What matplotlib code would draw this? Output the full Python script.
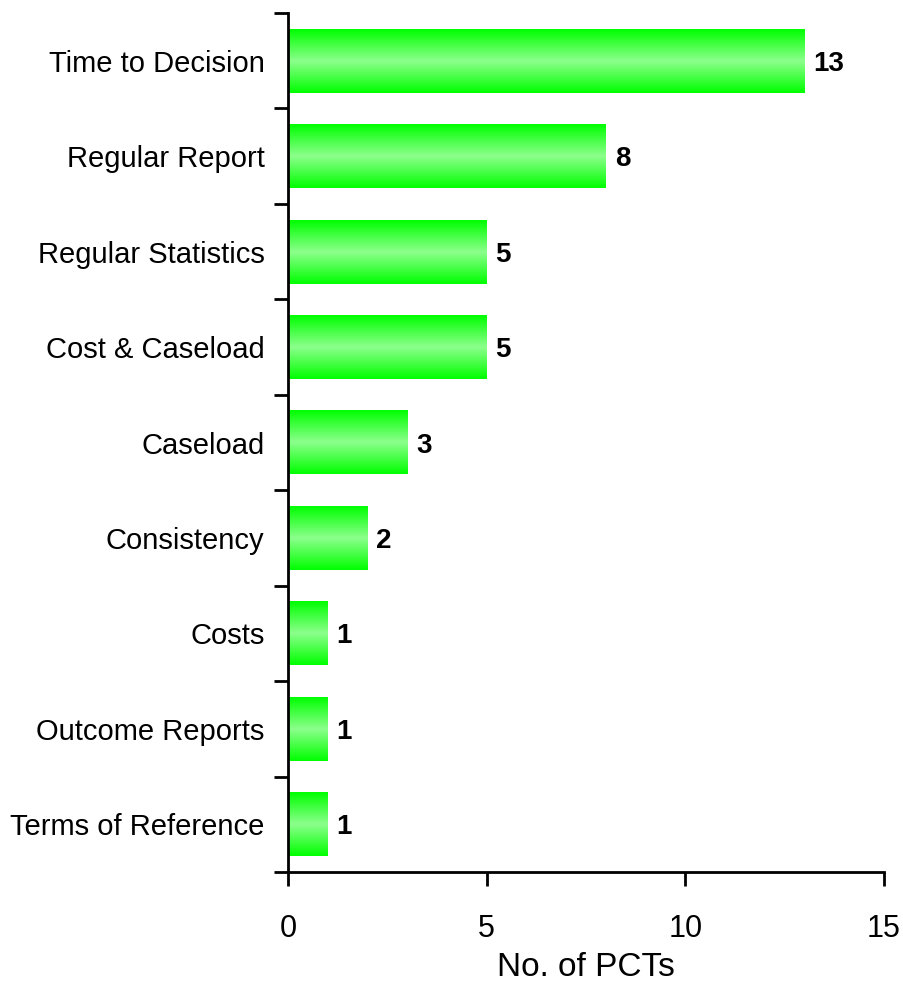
import numpy as np
import matplotlib
matplotlib.use("Agg")
import matplotlib.pyplot as plt
from matplotlib.colors import LinearSegmentedColormap
from matplotlib.ticker import FixedLocator

categories = [
    "Time to Decision",
    "Regular Report",
    "Regular Statistics",
    "Cost & Caseload",
    "Caseload",
    "Consistency",
    "Costs",
    "Outcome Reports",
    "Terms of Reference",
]
counts = [13, 8, 5, 5, 3, 2, 1, 1, 1]
x_ticks = [0, 5, 10, 15]

plt.rcParams["font.family"] = ["Liberation Sans Narrow", "Liberation Sans", "DejaVu Sans"]

fig = plt.figure(figsize=(9.04, 9.84), dpi=100)
ax = fig.add_axes([0.3186, 0.1138, 0.6593, 0.873])

n = len(categories)
ypos = np.arange(n)
bar_h = 0.67

# vertical gradient: saturated green at the edges, pale green in the middle
cmap = LinearSegmentedColormap.from_list("grn", ["#00ff00", "#8cff8c", "#00ff00"])
grad = np.linspace(0, 1, 256).reshape(-1, 1)

bars = ax.barh(ypos, counts, height=bar_h, color="none", edgecolor="none")
for bar, val in zip(bars, counts):
    x0, y0 = bar.get_x(), bar.get_y()
    w, h = bar.get_width(), bar.get_height()
    ax.imshow(grad, cmap=cmap, aspect="auto", extent=(x0, x0 + w, y0 + h, y0),
              interpolation="bicubic", zorder=2)
    ax.text(x0 + w + 0.22, y0 + h / 2, str(val), va="center_baseline", ha="left",
            fontsize=20, fontweight="bold")

ax.set_xlim(0, 15)
ax.set_ylim(n - 0.5, -0.5)

ax.spines["top"].set_visible(False)
ax.spines["right"].set_visible(False)
for s in ("left", "bottom"):
    ax.spines[s].set_linewidth(2)

ax.set_yticks(ypos)
ax.set_yticklabels(categories, fontsize=21)
ax.tick_params(axis="y", which="major", length=0, pad=17)
ax.yaxis.set_minor_locator(FixedLocator(np.arange(-0.5, n, 1.0)))
ax.tick_params(axis="y", which="minor", length=10, width=2, direction="out")

ax.set_xticks(x_ticks)
ax.set_xticklabels([str(t) for t in x_ticks], fontsize=22)
ax.tick_params(axis="x", length=10, width=2, pad=20)
ax.set_xlabel("No. of PCTs", fontsize=24, labelpad=6)

fig.savefig("out.png", dpi=100)
